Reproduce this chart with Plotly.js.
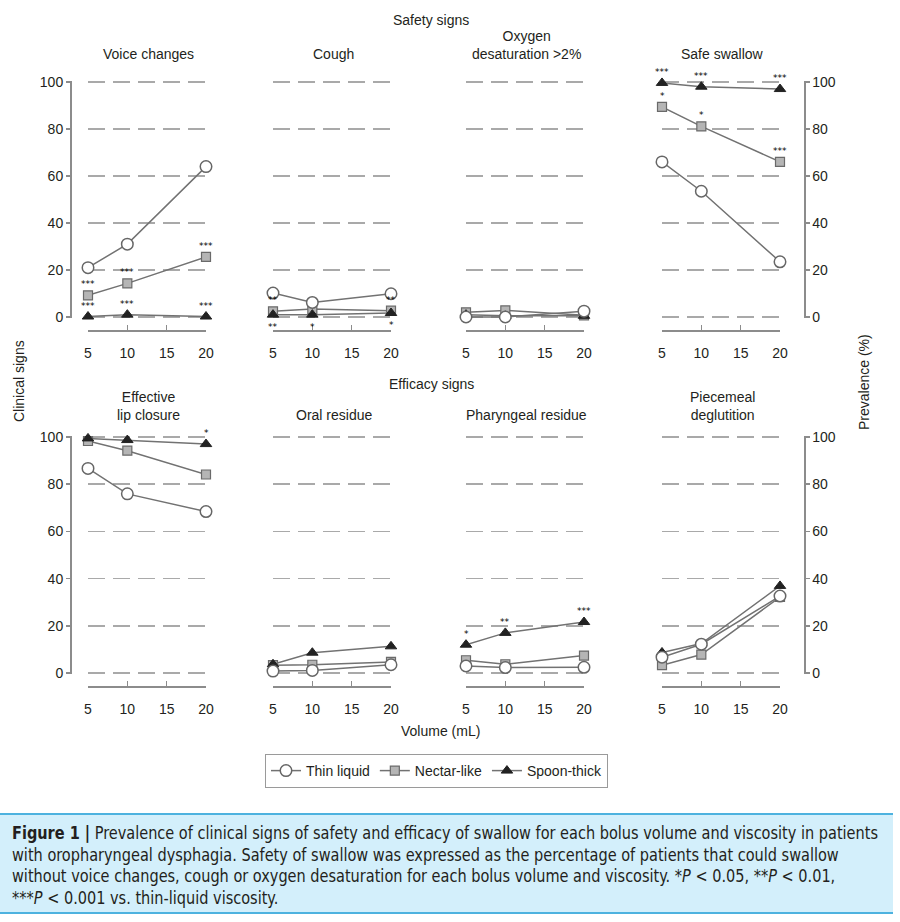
<!DOCTYPE html>
<html>
<head>
<meta charset="utf-8">
<script src="https://cdn.plot.ly/plotly-3.0.1.min.js"></script>
<style>
  html, body { margin: 0; padding: 0; background: #fff; }
  #wrap { position: relative; width: 900px; height: 922px; overflow: hidden; }
  #chart { position: absolute; left: 0; top: 0; width: 900px; height: 922px; }
  #caption {
    position: absolute; left: 0; top: 813px; width: 893px; height: 97px;
    background: #d3effb; border-top: 2px solid #4db2df; border-bottom: 2px solid #4db2df;
    overflow: hidden;
  }
  #capText {
    position: absolute; left: 12px; top: 8px; white-space: nowrap;
    font-family: "Liberation Sans Narrow", "DejaVu Sans Condensed", "Liberation Sans", sans-serif;
    font-size: 17.5px; line-height: 21.6px; color: #231f20; transform-origin: 0 0;
  }
  #capText b { font-weight: bold; }
</style>
</head>
<body>
<div id="wrap">
  <div id="chart"></div>
  <div id="caption"><div id="capText">
    <div><span id="line1"><b>Figure 1 |</b> Prevalence of clinical signs of safety and efficacy of swallow for each bolus volume and viscosity in patients</span></div>
    <div>with oropharyngeal dysphagia. Safety of swallow was expressed as the percentage of patients that could swallow</div>
    <div>without voice changes, cough or oxygen desaturation for each bolus volume and viscosity. *<i>P</i> &lt; 0.05, **<i>P</i> &lt; 0.01,</div>
    <div>***<i>P</i> &lt; 0.001 vs. thin-liquid viscosity.</div>
  </div></div>
</div>
<script>
// ---------------- DATA ----------------
const volumes = [5, 10, 20];
const xTicks = [5, 10, 15, 20];
const yTicks = [0, 20, 40, 60, 80, 100];
const seriesNames = ['Thin liquid', 'Nectar-like', 'Spoon-thick'];
const panelTitles = [
  'Voice changes', 'Cough', 'Oxygen<br>desaturation >2%', 'Safe swallow',
  'Effective<br>lip closure', 'Oral residue', 'Pharyngeal residue', 'Piecemeal<br>deglutition'
];
const groupTitles = ['Safety signs', 'Efficacy signs'];
// values per panel (same order as panelTitles), at volumes 5, 10, 20 mL
const thinLiquid = [
  [21, 31, 64], [10.2, 6.2, 9.9], [0, 0, 2.5], [66, 53.5, 23.5],
  [86.7, 75.9, 68.4], [0.8, 1.1, 3.5], [3, 2.3, 2.4], [6.7, 12.2, 32.6]
];
const nectarLike = [
  [9.2, 14.3, 25.6], [2.4, 3.4, 2.7], [2, 2.8, 0.7], [89.4, 81.1, 66],
  [98.3, 94.2, 84.1], [3.3, 3.5, 4.7], [5.4, 3.7, 7.4], [3.3, 7.8, 32.2]
];
const spoonThick = [
  [0.2, 1, 0.2], [1, 1, 1.7], [1, 0.5, 0.5], [99.6, 98, 97],
  [99.4, 98.7, 97], [3.7, 8.6, 11.3], [12, 17, 21.6], [8.7, 12.5, 36.9]
];
// significance markers vs thin liquid
const nectarStars = [
  ['***', '***', '***'], ['**', '', '**'], ['', '', ''], ['*', '*', '***'],
  ['', '', ''], ['', '', ''], ['', '', ''], ['', '', '']
];
const spoonStars = [
  ['***', '***', '***'], ['**', '*', '*'], ['', '', ''], ['***', '***', '***'],
  ['', '', '*'], ['', '', ''], ['*', '**', '***'], ['', '', '']
];
const spoonStarsBelow = [1]; // panels where spoon-thick stars sit under the marker

// ---------------- GEOMETRY / STYLE ----------------
const W = 900, H = 922;
const colPx = [[88, 206], [273, 391], [466, 584], [662, 780]];
const rowPx = [[82, 317, 330, 64], [437, 673, 686, 425]]; // y100, y0, x-axis line, title bottom
const leftAxisPx = 70, rightAxisPx = 804;
const yPad = 0.6; // small range padding so the 0 and 100 gridlines are drawn
const axisCol = '#8c8c8c', gridCol = '#a9a9a9', lineCol = '#727272';
const FONT = 'Liberation Sans, Arial, Helvetica, sans-serif';

const seriesData = [thinLiquid, nectarLike, spoonThick];
const seriesMarker = [
  {symbol: 'circle', size: 11.5, color: '#ffffff', line: {color: '#666666', width: 1.5}},
  {symbol: 'square', size: 9, color: '#b5b5b5', line: {color: '#6a6a6a', width: 1.2}},
  {symbol: 'triangle-up', size: 10, color: '#222222', line: {color: '#222222', width: 1}}
];
const drawOrder = [1, 2, 0];

const traces = [];
const layout = {
  width: W, height: H,
  margin: {l: 0, r: 0, t: 0, b: 0, pad: 0},
  paper_bgcolor: '#ffffff', plot_bgcolor: 'rgba(0,0,0,0)',
  font: {family: FONT, size: 14, color: '#231f20'},
  showlegend: true,
  legend: {
    orientation: 'h', x: 265 / W, y: 1 - 754 / H, xanchor: 'left', yanchor: 'top',
    bordercolor: '#9a9a9a', borderwidth: 1, bgcolor: '#ffffff',
    font: {family: FONT, size: 14, color: '#231f20'}, itemwidth: 30, traceorder: 'normal'
  },
  annotations: []
};

panelTitles.forEach((title, i) => {
  const r = Math.floor(i / 4), c = i % 4;
  const n = i === 0 ? '' : String(i + 1);
  const xa = 'xaxis' + n, ya = 'yaxis' + n, xr = 'x' + n, yr = 'y' + n;
  const pxPerUnit = (rowPx[r][1] - rowPx[r][0]) / 100;
  layout[xa] = {
    domain: [colPx[c][0] / W, colPx[c][1] / W], range: [5, 20],
    anchor: 'free', position: 1 - rowPx[r][2] / H,
    tickvals: xTicks, ticks: 'inside', ticklen: 5, tickwidth: 1.5, tickcolor: axisCol,
    showline: true, linecolor: axisCol, linewidth: 1.5,
    showgrid: false, zeroline: false, ticklabelstandoff: 10,
    tickfont: {family: FONT, size: 14, color: '#231f20'}
  };
  const yax = {
    domain: [1 - (rowPx[r][1] + yPad * pxPerUnit) / H, 1 - (rowPx[r][0] - yPad * pxPerUnit) / H],
    range: [-yPad, 100 + yPad],
    tickvals: yTicks, showgrid: true, gridcolor: gridCol, gridwidth: 1.6,
    griddash: '17px,8px', zeroline: false,
    tickfont: {family: FONT, size: 14, color: '#231f20'}
  };
  if (c === 0 || c === 3) {
    Object.assign(yax, {
      anchor: 'free', position: (c === 0 ? leftAxisPx : rightAxisPx) / W,
      side: c === 0 ? 'left' : 'right', showline: true, linecolor: axisCol, linewidth: 1.5,
      ticks: 'outside', ticklen: 4, tickwidth: 1.5, tickcolor: axisCol, showticklabels: true
    });
  } else {
    Object.assign(yax, {anchor: xr, showline: false, ticks: '', showticklabels: false});
  }
  layout[ya] = yax;

  drawOrder.forEach(s => {
    traces.push({
      type: 'scatter', mode: 'lines+markers', x: volumes, y: seriesData[s][i],
      xaxis: xr, yaxis: yr, name: seriesNames[s], legendgroup: seriesNames[s],
      legendrank: s + 1, showlegend: i === 0, cliponaxis: false,
      line: {color: lineCol, width: 1.5}, marker: seriesMarker[s], hoverinfo: 'skip'
    });
  });

  // significance stars
  [[nectarLike, nectarStars, false], [spoonThick, spoonStars, spoonStarsBelow.includes(i)]].forEach(([vals, st, below]) => {
    st[i].forEach((t, k) => {
      if (!t) return;
      layout.annotations.push({
        x: volumes[k], y: vals[i][k], xref: xr, yref: yr, text: t, showarrow: false,
        yshift: below ? -12 : 11, font: {family: 'DejaVu Sans, sans-serif', size: 9, color: '#000000'}
      });
    });
  });

  // panel title
  layout.annotations.push({
    x: (colPx[c][0] + colPx[c][1]) / 2 / W + 0.002, y: 1 - rowPx[r][3] / H,
    xref: 'paper', yref: 'paper', xanchor: 'center', yanchor: 'bottom',
    text: title, showarrow: false, font: {family: FONT, size: 14, color: '#231f20'}
  });
});

const paperText = [
  [groupTitles[0], 431, 20, 0], [groupTitles[1], 431, 384, 0],
  ['Volume (mL)', 440, 731, 0], ['Clinical signs', 19, 381, -90], ['Prevalence (%)', 864, 382, -90]
];
paperText.forEach(([t, px, py, ang]) => {
  layout.annotations.push({
    x: px / W, y: 1 - py / H, xref: 'paper', yref: 'paper', xanchor: 'center', yanchor: 'middle',
    text: t, textangle: ang, showarrow: false, font: {family: FONT, size: 14, color: '#231f20'}
  });
});

Plotly.newPlot('chart', traces, layout, {displayModeBar: false, staticPlot: true});

// fit caption lines to the reference width
(function fitCaption() {
  const l1 = document.getElementById('line1');
  const w = l1.getBoundingClientRect().width;
  if (w > 0) document.getElementById('capText').style.transform = 'scaleX(' + (866 / w) + ')';
})();
</script>
</body>
</html>
